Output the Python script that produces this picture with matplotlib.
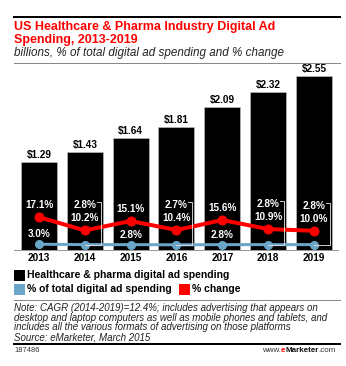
import matplotlib
matplotlib.use("Agg")
import matplotlib.pyplot as plt
from matplotlib.lines import Line2D
from matplotlib.patches import Rectangle

# ---- data ----
years = ["2013", "2014", "2015", "2016", "2017", "2018", "2019"]
spending = [1.29, 1.43, 1.64, 1.81, 2.09, 2.32, 2.55]
pct_change = [17.1, 10.2, 15.1, 10.4, 15.6, 10.9, 10.0]
pct_total = [3.0, 2.8, 2.8, 2.7, 2.8, 2.8, 2.8]
bracket_years = ["2014", "2016", "2018", "2019"]  # share label lifted above % change label

title_lines = ["US Healthcare & Pharma Industry Digital Ad", "Spending, 2013-2019"]
subtitle = "billions, % of total digital ad spending and % change"
legend_labels = ["Healthcare & pharma digital ad spending",
                 "% of total digital ad spending", "% change"]
note_lines = ["Note: CAGR (2014-2019)=12.4%; includes advertising that appears on",
              "desktop and laptop computers as well as mobile phones and tablets, and",
              "includes all the various formats of advertising on those platforms",
              "Source: eMarketer, March 2015"]
chart_id = "187486"
footer_parts = [("www.", "#333333", "normal"), ("e", "#ff0000", "bold"),
                ("Marketer", "#111111", "bold"), (".com", "#333333", "normal")]

RED = "#ff0000"
BLUE = "#6aa6c8"
FONT = "Liberation Sans"

W, H = 346, 366
DPI = 72
fig = plt.figure(figsize=(W / DPI, H / DPI), dpi=DPI)
fig.patch.set_facecolor("white")

def fx(px):
    return px / W

def fy(py):
    return 1 - py / H

# axes: left 14px, right 338px, top 66px, bottom (baseline) 250px
ax = fig.add_axes([fx(14), fy(250), fx(338 - 14), (250 - 66) / H])
ax2 = ax.twinx()

x = list(range(len(years)))
step = 45.83
ax.set_xlim(-25 / step, (338 - 39) / step)
ax.set_ylim(0, 184 / 68.2)
ax2.set_ylim(0, 184 / 1.92)

ax.bar(x, spending, width=36 / step, color="black", edgecolor="#c0c0c0", linewidth=0.6, zorder=2)
for xi, v in zip(x, spending):
    ax.annotate(f"${v:.2f}", (xi, v), xytext=(0, 2), textcoords="offset points",
                ha="center", va="bottom", fontsize=10, fontweight="bold",
                family=FONT, color="black")

ax2.plot(x, pct_total, color=BLUE, lw=3, marker="o", ms=8, zorder=3)
ax2.plot(x, pct_change, color=RED, lw=4, marker="o", ms=9, zorder=4)

for a in (ax, ax2):
    for s in ["top", "right", "left"]:
        a.spines[s].set_visible(False)
    a.set_yticks([])
ax.spines["bottom"].set_color("#999999")
ax.spines["bottom"].set_linewidth(1)
ax2.spines["bottom"].set_visible(False)
ax.set_xticks(x)
ax.set_xticklabels(years, fontsize=10, fontweight="bold", family=FONT)
ax.tick_params(axis="x", length=0, pad=3)

fig.canvas.draw()
inv = fig.transFigure.inverted()

lbl_kw = dict(ha="center", va="center", fontsize=10, fontweight="bold",
              family=FONT, color="white", zorder=6)
for xi, yr, pc, pt in zip(x, years, pct_change, pct_total):
    ax2.annotate(f"{pc:.1f}%", (xi, pc), xytext=(0, 12), textcoords="offset points", **lbl_kw)
    if yr in bracket_years:
        ax2.annotate(f"{pt:.1f}%", (xi, pc), xytext=(0, 25), textcoords="offset points", **lbl_kw)
        px_r, py_r = ax2.transData.transform((xi, pc))
        px_b, py_b = ax2.transData.transform((xi, pt))
        ly = py_r + 25
        pts = [(px_r + 12, ly + 3), (px_r + 16, ly + 3), (px_r + 16, py_b), (px_b, py_b)]
        fpts = inv.transform(pts)
        fig.add_artist(Line2D(fpts[:, 0], fpts[:, 1], color="#dddddd", lw=0.9, zorder=5))
    else:
        ax2.annotate(f"{pt:.1f}%", (xi, pt), xytext=(0, 10), textcoords="offset points", **lbl_kw)

# header
fig.add_artist(Line2D([fx(14), fx(340)], [fy(17), fy(17)], color="black", lw=2))
fig.text(fx(14), fy(27), title_lines[0], color=RED, fontsize=12.5, fontweight="bold",
         family=FONT, va="center", ha="left")
fig.text(fx(14), fy(40), title_lines[1], color=RED, fontsize=12.5, fontweight="bold",
         family=FONT, va="center", ha="left")
fig.text(fx(14), fy(53), subtitle, color="#222222", fontsize=11.6, style="italic",
         family=FONT, va="center", ha="left")
fig.add_artist(Line2D([fx(14), fx(340)], [fy(63), fy(63)], color="#888888", lw=1))

# legend
def legend_item(px, py, color, text):
    fig.add_artist(Rectangle((fx(px), fy(py + 5)), fx(10), 10 / H, color=color,
                             transform=fig.transFigure))
    fig.text(fx(px + 13), fy(py), text, fontsize=10.4, fontweight="bold", family=FONT,
             va="center", ha="left", color="black")

legend_item(14, 275, "black", legend_labels[0])
legend_item(14, 289, BLUE, legend_labels[1])
legend_item(179, 289, RED, legend_labels[2])

# notes
fig.add_artist(Line2D([fx(14), fx(340)], [fy(300), fy(300)], color="#888888", lw=1))
for i, line in enumerate(note_lines):
    fig.text(fx(14), fy(308 + i * 9.7), line, fontsize=9.8, style="italic", family=FONT,
             va="center", ha="left", color="#222222")
fig.add_artist(Line2D([fx(14), fx(340)], [fy(344), fy(344)], color="black", lw=2))
fig.text(fx(14), fy(351), chart_id, fontsize=7.5, family=FONT, va="center", ha="left",
         color="#333333")

# footer right, built right-to-left
xr = fx(336)
for txt, col, wt in reversed(footer_parts):
    t = fig.text(xr, fy(351), txt, fontsize=8, family=FONT, fontweight=wt, va="center",
                 ha="right", color=col)
    fig.canvas.draw()
    bb = t.get_window_extent()
    xr = inv.transform((bb.x0, 0))[0]

fig.savefig("out.png", dpi=DPI, facecolor="white")
